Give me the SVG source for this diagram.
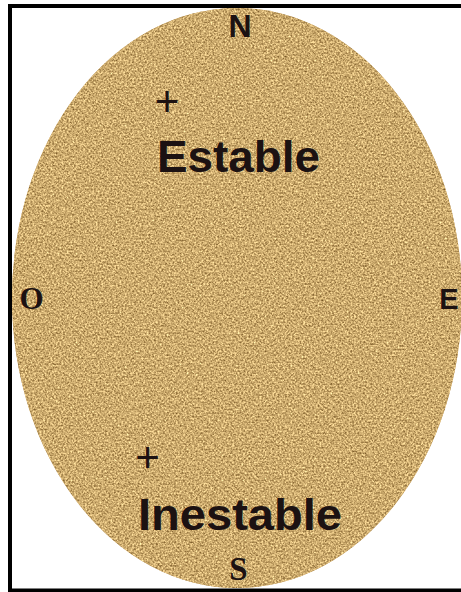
<svg xmlns="http://www.w3.org/2000/svg" width="461" height="592" viewBox="0 0 461 592">
<defs>
<style>
.lbl{fill:#1c1212}
.sans{font-family:"Liberation Sans",Arial,sans-serif;font-weight:bold}
.serif{font-family:"Liberation Serif","Times New Roman",serif;font-weight:bold}
.plus{font-family:"Liberation Sans",Arial,sans-serif;font-weight:normal;font-size:42px}
</style>
<filter id="cork" x="0" y="0" width="1" height="1" color-interpolation-filters="sRGB">
<feTurbulence type="fractalNoise" baseFrequency="0.55" numOctaves="3" seed="7" result="n"/>
<feColorMatrix in="n" type="matrix" values="0.8 0 0 0 0.40  0.8 0 0 0 0.27  0.7 0 0 0 0.08  0 0 0 0 1" result="c"/>
<feComposite in="c" in2="SourceGraphic" operator="in"/>
</filter>
</defs>
<rect x="0" y="0" width="461" height="592" fill="#ffffff"/>
<g id="board">
<ellipse cx="237" cy="298" rx="225" ry="290" fill="#c9a56b"/>
<ellipse cx="237" cy="298" rx="225" ry="290" fill="#c9a56b" filter="url(#cork)"/>
</g>
<g id="frame">
<path d="M 463 6 L 10 6 L 10 590.5 L 463 590.5" fill="none" stroke="#000000" stroke-width="4"/>
</g>
<g id="connectors"></g>
<g id="north"><text class="lbl sans" x="240" y="37" font-size="32" text-anchor="middle">N</text></g>
<g id="south"><text class="lbl serif" x="238.5" y="580" font-size="33" text-anchor="middle">S</text></g>
<g id="west"><text class="lbl serif" x="31.5" y="309" font-size="31" text-anchor="middle">O</text></g>
<g id="east"><text class="lbl sans" x="449" y="309" font-size="29" text-anchor="middle">E</text></g>
<g id="stable">
<text class="lbl plus" x="167" y="116" text-anchor="middle">+</text>
<text class="lbl sans" x="157" y="172" font-size="45" textLength="163" lengthAdjust="spacingAndGlyphs">Estable</text>
</g>
<g id="unstable">
<text class="lbl plus" x="147.5" y="472" text-anchor="middle">+</text>
<text class="lbl sans" x="138" y="530" font-size="45" textLength="204" lengthAdjust="spacingAndGlyphs">Inestable</text>
</g>
</svg>
